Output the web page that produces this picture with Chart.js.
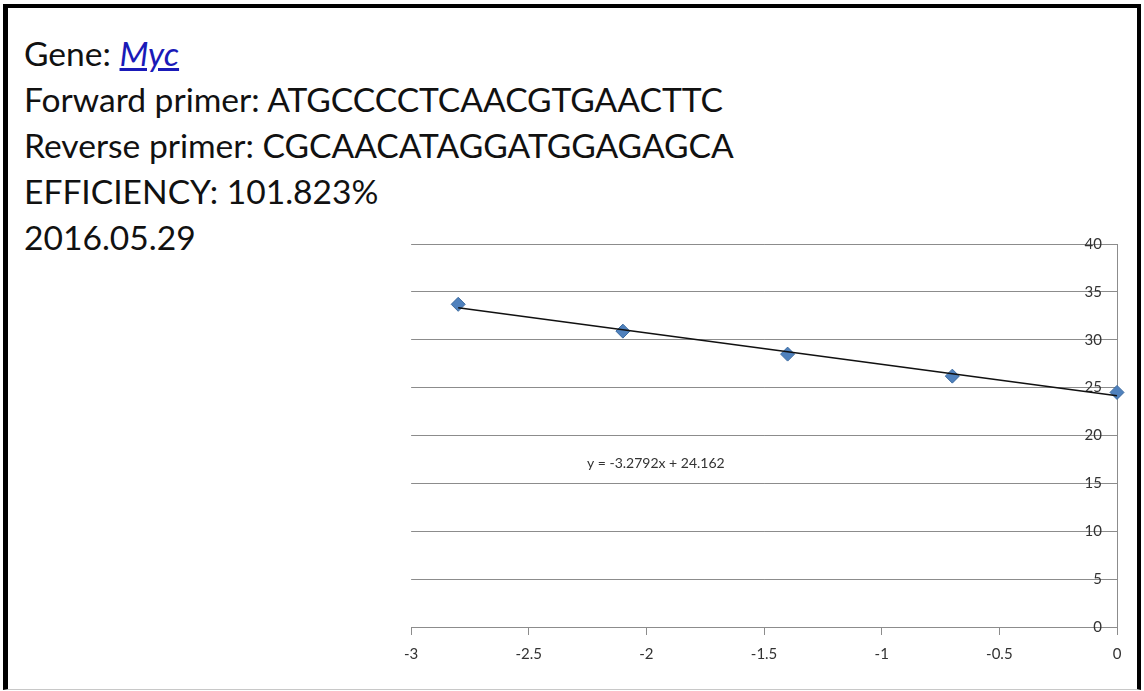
<!DOCTYPE html>
<html>
<head>
<meta charset="utf-8">
<script src="https://cdn.jsdelivr.net/npm/chart.js@4.4.9/dist/chart.umd.min.js"></script>
<style>
  html, body { margin: 0; padding: 0; background: #fff; }
  body { width: 1144px; height: 691px; position: relative; overflow: hidden; }
  #frame {
    position: absolute; left: 3px; top: 4px; width: 1138px; height: 686px;
    box-sizing: border-box;
    border-left: 5px solid #000; border-top: 4px solid #000; border-right: 4px solid #000;
    border-bottom: 1px solid #c8c8c8;
  }
  #info {
    position: absolute; left: 24px; top: 30px;
    font-family: Lato, sans-serif; font-size: 34px; line-height: 46px;
    color: #111; white-space: nowrap;
  }
  #info a { color: #1a1ab8; font-style: italic; text-decoration: underline; }
  #wrap { position: absolute; left: 394px; top: 234px; width: 746px; height: 451px; }
</style>
</head>
<body>
<div id="frame"></div>
<div id="info"></div>
<div id="wrap"><canvas id="chart" width="746" height="451"></canvas></div>
<script>
// szöveges adatok
const geneName = 'Myc';
const forwardPrimer = 'ATGCCCCTCAACGTGAACTTC';
const reversePrimer = 'CGCAACATAGGATGGAGAGCA';
const efficiency = '101.823%';
const runDate = '2016.05.29';
const equationText = 'y = -3.2792x + 24.162';

// mért pontok (log hígítás, Ct)
const dilutionLog = [-2.8, -2.1, -1.4, -0.7, 0];
const ctValues = [33.7, 30.9, 28.5, 26.2, 24.5];

// trendvonal végpontjai
const trendX = [-2.8, 0];
const trendY = [33.34, 24.16];

// tengelyek
const xRange = [-3, 0];
const xStep = 0.5;
const yRange = [0, 40];
const yStep = 5;
const eqPos = [-1.96, 17.1];

// bal felső szövegblokk
const info = document.getElementById('info');
info.innerHTML =
  'Gene: <a>' + geneName + '</a><br>' +
  'Forward primer: ' + forwardPrimer + '<br>' +
  'Reverse primer: ' + reversePrimer + '<br>' +
  'EFFICIENCY: ' + efficiency + '<br>' +
  runDate;
const m = document.createElement('canvas').getContext('2d');
m.font = '100px Lato';
const wRev = m.measureText('Reverse primer: ' + reversePrimer).width;
info.style.fontSize = (100 * 710 / wRev).toFixed(1) + 'px';

const eqLabel = {
  id: 'eqLabel',
  afterDatasetsDraw(chart) {
    const { ctx, scales: { x, y } } = chart;
    ctx.save();
    ctx.font = '14px Lato';
    ctx.fillStyle = '#333';
    ctx.textAlign = 'center';
    ctx.textBaseline = 'middle';
    ctx.fillText(equationText, x.getPixelForValue(eqPos[0]), y.getPixelForValue(eqPos[1]));
    ctx.restore();
  }
};

const gridColor = '#8c8c8c';

new Chart(document.getElementById('chart'), {
  type: 'scatter',
  data: {
    datasets: [
      {
        type: 'line',
        data: trendX.map((v, i) => ({ x: v, y: trendY[i] })),
        borderColor: '#111',
        borderWidth: 1.5,
        pointRadius: 0,
        order: 0,
        clip: false
      },
      {
        data: dilutionLog.map((v, i) => ({ x: v, y: ctValues[i] })),
        pointStyle: 'rectRot',
        pointRadius: 7,
        backgroundColor: '#4f81bd',
        borderColor: '#3b6a9f',
        borderWidth: 1,
        order: 1,
        clip: false
      }
    ]
  },
  options: {
    responsive: false,
    animation: false,
    layout: { padding: { left: 3, right: 23, top: 10, bottom: 8 } },
    plugins: { legend: { display: false }, tooltip: { enabled: false } },
    scales: {
      x: {
        type: 'linear',
        min: xRange[0], max: xRange[1],
        afterFit(s) { s.height = 50; },
        ticks: {
          stepSize: xStep, padding: 10, color: '#333', font: { family: 'Lato', size: 15 },
          callback: v => String(Math.round(v * 10) / 10)
        },
        grid: { drawOnChartArea: false, drawTicks: true, tickLength: 8, color: gridColor },
        border: { display: true, color: gridColor }
      },
      y: {
        position: 'right',
        min: yRange[0], max: yRange[1],
        afterFit(s) { s.width = 0; },
        ticks: { stepSize: yStep, mirror: true, padding: -15, color: '#333', font: { family: 'Lato', size: 15 } },
        grid: { drawTicks: false, color: gridColor },
        border: { display: true, color: gridColor }
      }
    }
  },
  plugins: [eqLabel]
});
</script>
</body>
</html>
